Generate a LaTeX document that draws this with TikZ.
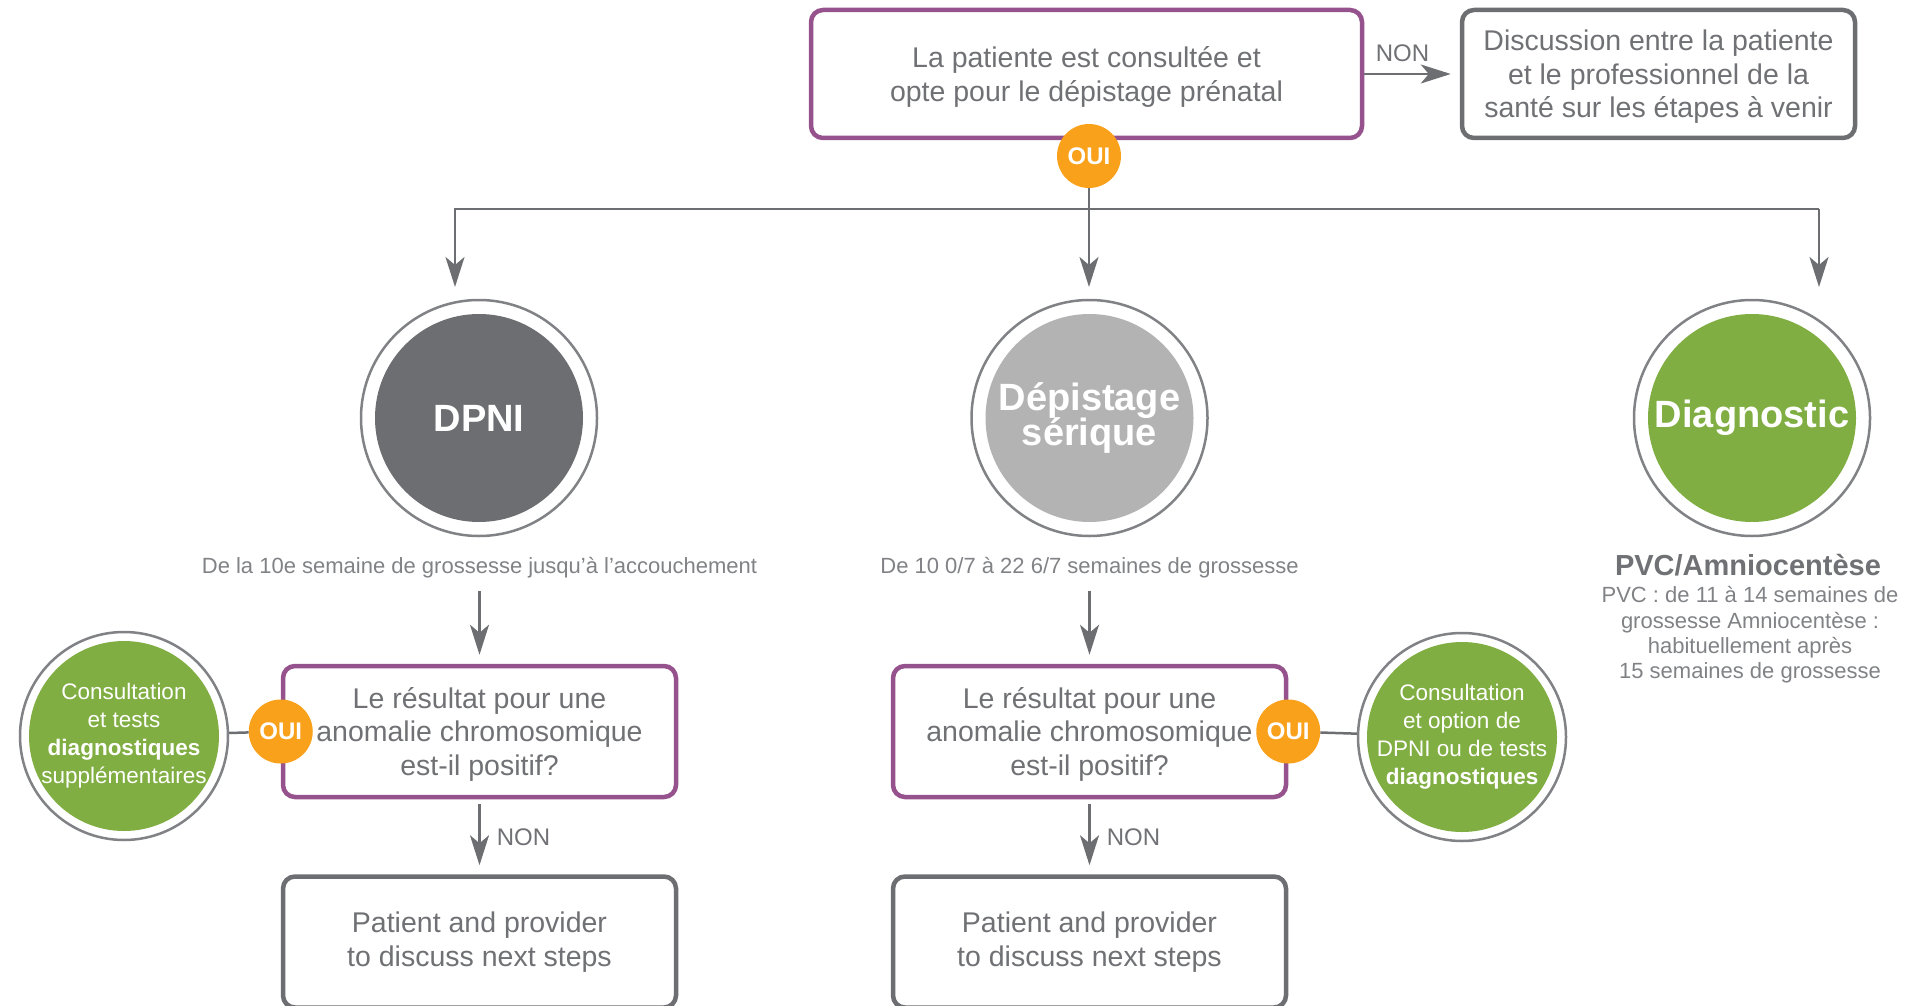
\documentclass[tikz,border=0pt]{standalone}
\usepackage{fontspec}
\setmainfont{Liberation Sans}
\usetikzlibrary{arrows.meta}
\definecolor{boxpurple}{RGB}{150,82,140}
\definecolor{linegray}{RGB}{109,110,113}
\definecolor{txtgray}{RGB}{112,113,116}
\definecolor{notegray}{RGB}{128,130,133}
\definecolor{ringgray}{RGB}{128,130,133}
\definecolor{dpnigray}{RGB}{109,110,113}
\definecolor{serumgray}{RGB}{179,179,179}
\definecolor{diaggreen}{RGB}{128,174,66}
\definecolor{ouiorange}{RGB}{249,161,27}
\tikzset{
	box/.style={draw=#1, line width=4.5pt, rounded corners=12pt, fill=white, align=center, text=txtgray, inner sep=0pt, font=\fontsize{28.5}{33.5}\selectfont},
	lowtext/.style={text depth=0pt},
	disc/.style 2 args={circle, draw=ringgray, line width=2.5pt, fill=white, inner sep=0pt, align=center, text=white, path picture={\fill[#1] (path picture bounding box.center) circle[radius=#2];}},
	bigdisc/.style={disc={#1}{104pt}, minimum size=236pt, font=\bfseries\fontsize{38}{31}\selectfont},
	smalldisc/.style={disc={#1}{95pt}, minimum size=208pt, font=\fontsize{22.5}{28}\selectfont},
	oui/.style={circle, fill=ouiorange, text=white, inner sep=0pt, minimum size=64pt, font=\bfseries\fontsize{24}{24}\selectfont},
	note/.style={text=notegray, align=center, inner sep=0pt, font=\fontsize{22}{25.3}\selectfont},
	lbl/.style={text=txtgray, inner sep=2pt, font=\fontsize{24}{24}\selectfont},
	link/.style={draw=linegray, line width=2.5pt},
	arr/.style={link, -{Stealth[length=30pt, width=19pt, inset=8pt]}},
	tobox/.style={arr, shorten >=9pt, shorten <=5pt}
}
\begin{document}
\begin{tikzpicture}[x=1pt, y=-1pt]
	\useasboundingbox (0,0) rectangle (1914,1006);
	% consent
	\node[box=boxpurple, lowtext, minimum width=551pt, minimum height=128pt] (consent) at (1086.5,74) {La patiente est consultée et\\opte pour le dépistage prénatal};
	\node[box=linegray, lowtext, minimum width=393pt, minimum height=128pt] (talk) at (1658.5,74) {Discussion entre la patiente\\et le professionnel de la\\santé sur les étapes à venir};
	\draw[tobox, shorten <=0pt] (consent) -- node[lbl, pos=0.4, above=9pt] {NON} (talk);
	\node[oui] (ouitop) at (1089,156) {OUI};
	% branches
	\coordinate (barL) at (455,209);
	\coordinate (barR) at (1819,209);
	\coordinate (inL) at (455,287);
	\coordinate (inM) at (1089,287);
	\coordinate (inR) at (1819,287);
	\draw[arr] (barR) -- (barL) -- (inL);
	\draw[arr] (barR) -- (inR);
	\draw[arr] (ouitop) -- (inM);
	% tests
	\node[bigdisc=dpnigray] (dpni) at (479,418) {DPNI};
	\node[bigdisc=serumgray] (serum) at (1089.5,418) {Dépistage\\[-1pt]sérique};
	\node[bigdisc=diaggreen] (diag) at (1752,418) {Diagnostic};
	\node[note] (dpniwhen) at (479.5,568) {De la 10e semaine de grossesse jusqu’à l’accouchement};
	\node[note] (serumwhen) at (1089.5,568) {De 10 0/7 à 22 6/7 semaines de grossesse};
	\node[note, text=txtgray, font=\bfseries\fontsize{29}{29}\selectfont] (pvc) at (1748,565) {PVC/Amniocentèse};
	\node[note] (pvcwhen) at (1750,635) {PVC : de 11 à 14 semaines de\\grossesse Amniocentèse :\\habituellement après\\15 semaines de grossesse};
	% results
	\foreach \c/\x/\w in {A/479.5/dpniwhen, B/1089.5/serumwhen}{
		\node[box=boxpurple, lowtext, minimum width=393pt, minimum height=131pt] (q\c) at (\x,731.5) {Le résultat pour une\\anomalie chromosomique\\est-il positif?};
		\node[box=linegray, minimum width=393pt, minimum height=131pt] (next\c) at (\x,942) {Patient and provider\\to discuss next steps};
		\draw[tobox, shorten <=12pt] (\w) -- (q\c);
		\draw[tobox] (q\c) -- node[lbl, midway, right=14pt] {NON} (next\c);
	}
	% positive results
	\node[oui] (ouiA) at (qA.west) {OUI};
	\node[oui] (ouiB) at (qB.east) {OUI};
	\node[smalldisc=diaggreen] (moreA) at (124,736) {Consultation\\et tests\\\textbf{diagnostiques}\\supplémentaires};
	\node[smalldisc=diaggreen] (moreB) at (1462,737) {Consultation\\et option de\\DPNI ou de tests\\\textbf{diagnostiques}};
	\draw[link] (ouiA) -- (moreA);
	\draw[link] (ouiB) -- (moreB);
\end{tikzpicture}
\end{document}
